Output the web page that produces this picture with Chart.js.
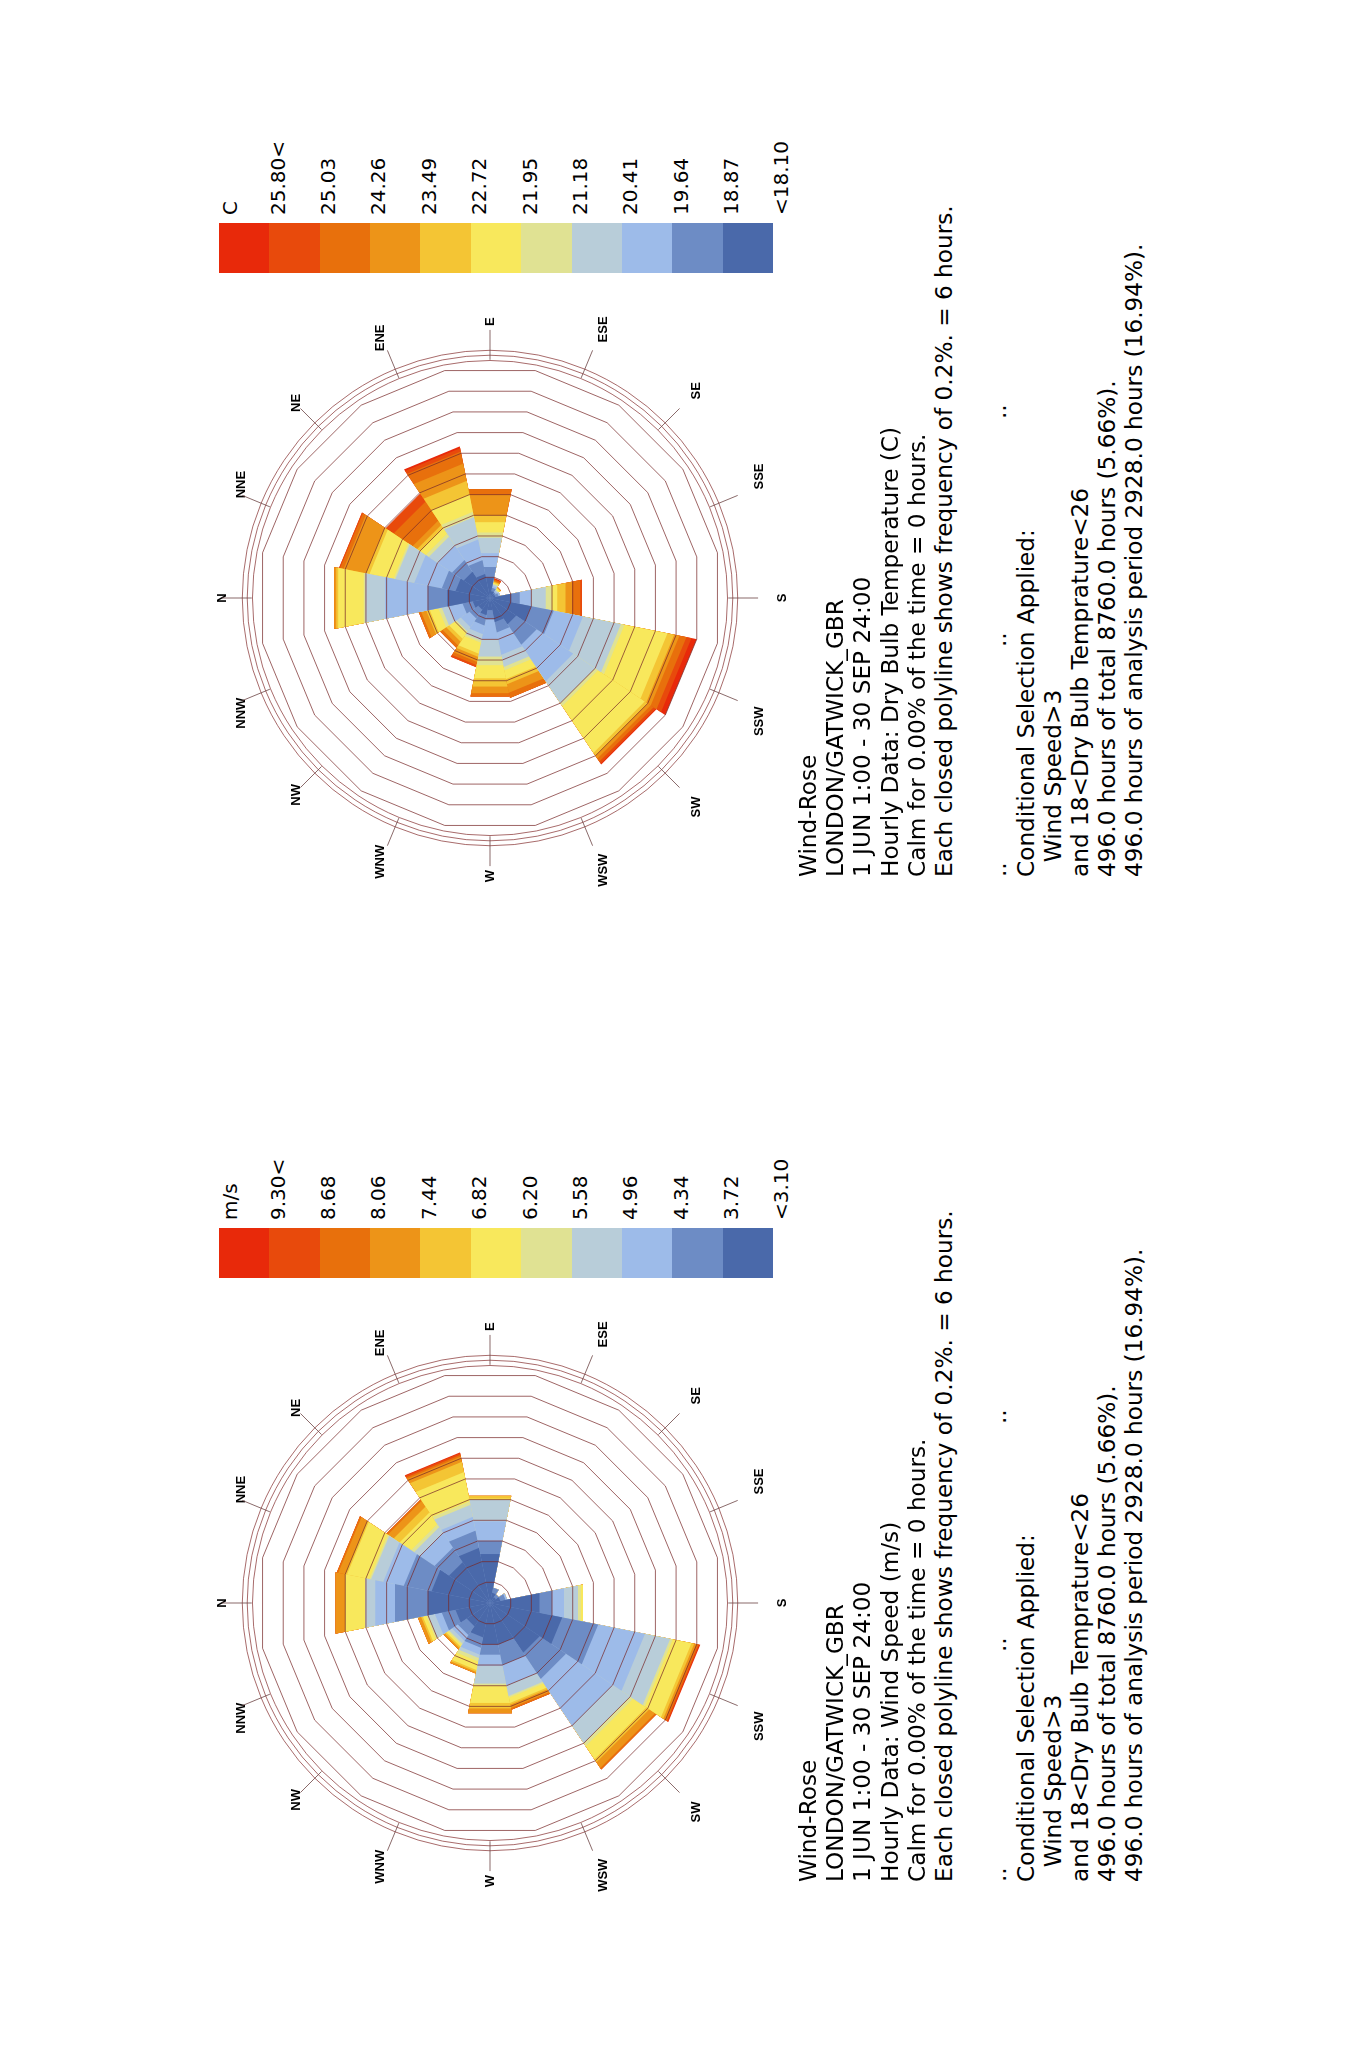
<!DOCTYPE html>
<html>
<head>
<meta charset="utf-8">
<title>Wind-Rose LONDON/GATWICK_GBR</title>
<script src="https://cdn.jsdelivr.net/npm/chart.js@4.4.1/dist/chart.umd.min.js"></script>
<style>
  html, body { margin: 0; padding: 0; background: #fff; }
  body { width: 1362px; height: 2048px; overflow: hidden; position: relative; }
  /* the whole sheet is laid out upright, then turned a quarter turn */
  #page {
    position: absolute; left: 0; top: 0; width: 2048px; height: 1362px;
    transform-origin: 0 0; transform: translate(0px, 2048px) rotate(-90deg);
    font-family: "DejaVu Sans", Verdana, sans-serif; color: #000;
  }
  .rose { position: absolute; }
  .bar { position: absolute; width: 50px; }
  .bar div { height: 50.36px; }
  .lbl { position: absolute; font-size: 20px; line-height: 20px; white-space: pre; }
  .txt { position: absolute; font-size: 23.2px; line-height: 27.2px; white-space: pre; }
</style>
</head>
<body>
<div id="page"></div>
<script>
// compass sectors, clockwise from north
const directions = ['N','NNE','NE','ENE','E','ESE','SE','SSE','S','SSW','SW','WSW','W','WNW','NW','NNW']

// colour classes, lowest (centre) to highest (rim)
const bandColors = ['#4a69aa','#6d8cc5','#9dbbe9','#b8cdd9','#e0e293','#f8e85c','#f4c534','#ed9418','#e8700c','#e84a0c','#e8290a']

const speedUnit = 'm/s'
const speedTicks = ['9.30<','8.68','8.06','7.44','6.82','6.20','5.58','4.96','4.34','3.72','<3.10']
const tempUnit = 'C'
const tempTicks = ['25.80<','25.03','24.26','23.49','22.72','21.95','21.18','20.41','19.64','18.87','<18.10']

// hours per direction in each wind speed class (6 hours = one polyline)
const speedBand0  = [18, 17, 14, 16, 14.2, 3, 2, 3, 14.4, 21, 17, 12, 12, 10, 8, 10]
const speedBand1  = [9.6, 8, 5, 5, 3.8, 1.5, 1, 1.5, 3.6, 10.4, 9, 6, 3, 3, 3, 4]
const speedBand2  = [5.7, 6, 5, 4, 5.7, 0, 0, 0.5, 3.5, 13.6, 16, 6, 3.2, 2, 2, 2]
const speedBand3  = [2.9, 3.5, 2, 3.5, 6.2, 0, 0, 0, 4, 7.3, 6, 3, 5.2, 1, 1, 2]
const speedBand4  = [0, 0.5, 1, 1, 0, 0, 0, 0, 0.8, 0.7, 1, 0.5, 0.6, 1, 0.5, 0.5]
const speedBand5  = [5.8, 6.5, 4, 8.5, 0.4, 0, 0, 0, 0.7, 5.5, 4.5, 1.5, 5, 2.5, 0.5, 1]
const speedBand6  = [0, 0.5, 2, 3, 0.8, 0, 0, 0, 0, 0.8, 1, 0.5, 1.6, 0.5, 0.5, 0.5]
const speedBand7  = [2.8, 2, 2, 1.5, 0, 0, 0, 0, 0, 0.7, 2, 1, 1.4, 0.5, 0.5, 1]
const speedBand8  = [0, 0.5, 0.5, 0.5, 0, 0, 0, 0, 0, 0.5, 0.5, 0.5, 0, 0, 0, 0]
const speedBand9  = [0, 0, 0, 0.5, 0, 0, 0, 0, 0, 0.3, 0, 0, 0, 0, 0, 0]
const speedBand10 = [0, 0, 0, 0.2, 0, 0, 0, 0, 0, 0.2, 0, 0, 0, 0, 0, 0]

// hours per direction in each dry bulb temperature class
const tempBand0  = [12.4, 10, 9, 7, 6, 2, 1.5, 1.5, 6.2, 12, 9, 7, 3.5, 5, 4, 5]
const tempBand1  = [5.7, 4, 4, 4, 3, 1, 0.5, 1, 2.4, 6.5, 7, 3, 2.7, 3, 3, 3]
const tempBand2  = [12.4, 8, 5, 6, 4, 0.5, 0.5, 0.5, 3.3, 8.5, 12.5, 6.5, 5.7, 2.5, 3, 4]
const tempBand3  = [5.7, 5.5, 3, 6.5, 4.5, 0.5, 0.3, 0, 4.3, 11, 7.5, 3.5, 5.1, 1.9, 1.5, 2]
const tempBand4  = [0.4, 0.5, 1, 1.5, 1.5, 0.2, 0.2, 0, 1.7, 1, 1, 1, 2.5, 0.6, 0.5, 1]
const tempBand5  = [7.4, 7, 2, 5, 3, 0.3, 0.4, 0, 1.6, 12.5, 16, 2.5, 3.8, 3.2, 2, 2.5]
const tempBand6  = [0.6, 1, 1, 4, 2, 0.3, 0.2, 0, 2.4, 2, 1, 1.5, 2.4, 0.9, 1, 1]
const tempBand7  = [0.6, 6.5, 1.5, 5, 6, 0.2, 0.2, 0, 1.9, 1.5, 1, 2.5, 1.9, 1.5, 1.3, 1.5]
const tempBand8  = [0, 1, 6.5, 3.5, 1.6, 0.4, 0, 0, 2.4, 2, 1, 1.5, 1, 0.9, 0.8, 0.7]
const tempBand9  = [0, 0.3, 2.7, 1, 0, 0.2, 0, 0, 0.5, 1.5, 0.7, 0, 0, 0.6, 0, 0]
const tempBand10 = [0, 0, 0, 0.5, 0, 0.2, 0, 0, 0, 1.5, 0.3, 0, 0, 0, 0, 0]

const speedBands = [speedBand0, speedBand1, speedBand2, speedBand3, speedBand4, speedBand5, speedBand6, speedBand7, speedBand8, speedBand9, speedBand10]
const tempBands = [tempBand0, tempBand1, tempBand2, tempBand3, tempBand4, tempBand5, tempBand6, tempBand7, tempBand8, tempBand9, tempBand10]

const ringStep = 6      // hours per closed polyline
const ringMax = 66      // 11 polylines
const outerRings = [67.6, 69.1, 70.5]

const commonLines = [
  'Wind-Rose',
  'LONDON/GATWICK_GBR',
  '1 JUN 1:00 - 30 SEP 24:00'
]
const speedDataLine = 'Hourly Data: Wind Speed (m/s)'
const tempDataLine = 'Hourly Data: Dry Bulb Temperature (C)'
const tailLines = [
  'Calm for 0.00% of the time = 0 hours.',
  'Each closed polyline shows frequency of 0.2%. = 6 hours.',
  '',
  '',
  'Conditional Selection Applied:',
  '  Wind Speed>3',
  'and 18<Dry Bulb Temprature<26',
  '496.0 hours of total 8760.0 hours (5.66%).',
  '496.0 hours of analysis period 2928.0 hours (16.94%).'
]

const page = document.getElementById('page')

// rings beyond the last polyline and the little compass ticks
const roseFrame = {
  id: 'roseFrame',
  afterDraw(chart) {
    const r = chart.scales.r
    const ctx = chart.ctx
    ctx.save()
    ctx.strokeStyle = 'rgba(140,60,60,0.85)'
    ctx.lineWidth = 0.9
    outerRings.forEach(v => {
      ctx.beginPath()
      ctx.arc(r.xCenter, r.yCenter, r.getDistanceFromCenterForValue(v), 0, Math.PI * 2)
      ctx.stroke()
    })
    ctx.strokeStyle = 'rgba(110,70,70,0.9)'
    directions.forEach((d, i) => {
      const a = r.getPointPosition(i, r.getDistanceFromCenterForValue(67.8), Math.PI / 16)
      const b = r.getPointPosition(i, r.getDistanceFromCenterForValue(76.3), Math.PI / 16)
      ctx.beginPath()
      ctx.moveTo(a.x, a.y)
      ctx.lineTo(b.x, b.y)
      ctx.stroke()
    })
    ctx.restore()
  }
}

function cumulate(bands) {
  let run = directions.map(() => 0)
  return bands.map(b => {
    run = run.map((v, i) => +(v + b[i]).toFixed(2))
    return run
  })
}

function drawRose(ox, bands) {
  const cv = document.createElement('canvas')
  cv.className = 'rose'
  cv.width = 600
  cv.height = 600
  cv.style.left = (142 + ox) + 'px'
  cv.style.top = '203px'
  page.appendChild(cv)

  const stacked = cumulate(bands)
  new Chart(cv, {
    type: 'polarArea',
    data: {
      labels: directions,
      datasets: stacked.map((d, k) => ({
        data: d,
        backgroundColor: bandColors[k],
        borderWidth: 0,
        circular: false
      }))
    },
    options: {
      responsive: false,
      animation: false,
      plugins: { legend: { display: false }, tooltip: { enabled: false } },
      scales: {
        r: {
          min: 0,
          max: ringMax,
          startAngle: -11.25,
          ticks: { display: false, stepSize: ringStep },
          grid: { circular: false, color: 'rgba(120,40,40,0.8)', lineWidth: 0.9, z: 1 },
          angleLines: { display: false },
          pointLabels: {
            display: true,
            centerPointLabels: true,
            // labels sit a little lower than a symmetric ring would put them
            padding: ctx => 40 - 12.5 * Math.cos(ctx.index * Math.PI / 8),
            color: '#000',
            font: { family: "'Liberation Sans', Arial, sans-serif", size: 13, weight: 'bold' }
          }
        }
      }
    },
    plugins: [roseFrame]
  })
}

function drawLegend(ox, unit, ticks) {
  const bar = document.createElement('div')
  bar.className = 'bar'
  bar.style.left = (770 + ox) + 'px'
  bar.style.top = '219px'
  for (let k = bandColors.length - 1; k >= 0; k--) {
    const cell = document.createElement('div')
    cell.style.background = bandColors[k]
    bar.appendChild(cell)
  }
  page.appendChild(bar)

  const u = document.createElement('div')
  u.className = 'lbl'
  u.textContent = unit
  u.style.left = (828 + ox) + 'px'
  u.style.top = '220px'
  page.appendChild(u)

  ticks.forEach((t, k) => {
    const el = document.createElement('div')
    el.className = 'lbl'
    el.textContent = t
    el.style.left = (828 + ox) + 'px'
    el.style.top = (219 + (k + 1) * 50.36 - 1.6) + 'px'
    page.appendChild(el)
  })
}

function drawText(ox, dataLine) {
  const lines = commonLines.concat([dataLine], tailLines)
  lines.forEach((s, k) => {
    if (!s) return
    const el = document.createElement('div')
    el.className = 'txt'
    el.textContent = s
    el.style.left = (166 + ox) + 'px'
    el.style.top = (794 + k * 27.2) + 'px'
    page.appendChild(el)
  })
  // the three dot marks on the blank line
  ;[0, 230, 458].forEach(dx => {
    const el = document.createElement('div')
    el.className = 'txt'
    el.textContent = '..'
    el.style.left = (166 + dx + ox) + 'px'
    el.style.top = (794 + 7 * 27.2) + 'px'
    page.appendChild(el)
  })
}

drawRose(0, speedBands)
drawLegend(0, speedUnit, speedTicks)
drawText(0, speedDataLine)

drawRose(1005, tempBands)
drawLegend(1005, tempUnit, tempTicks)
drawText(1005, tempDataLine)
</script>
</body>
</html>
